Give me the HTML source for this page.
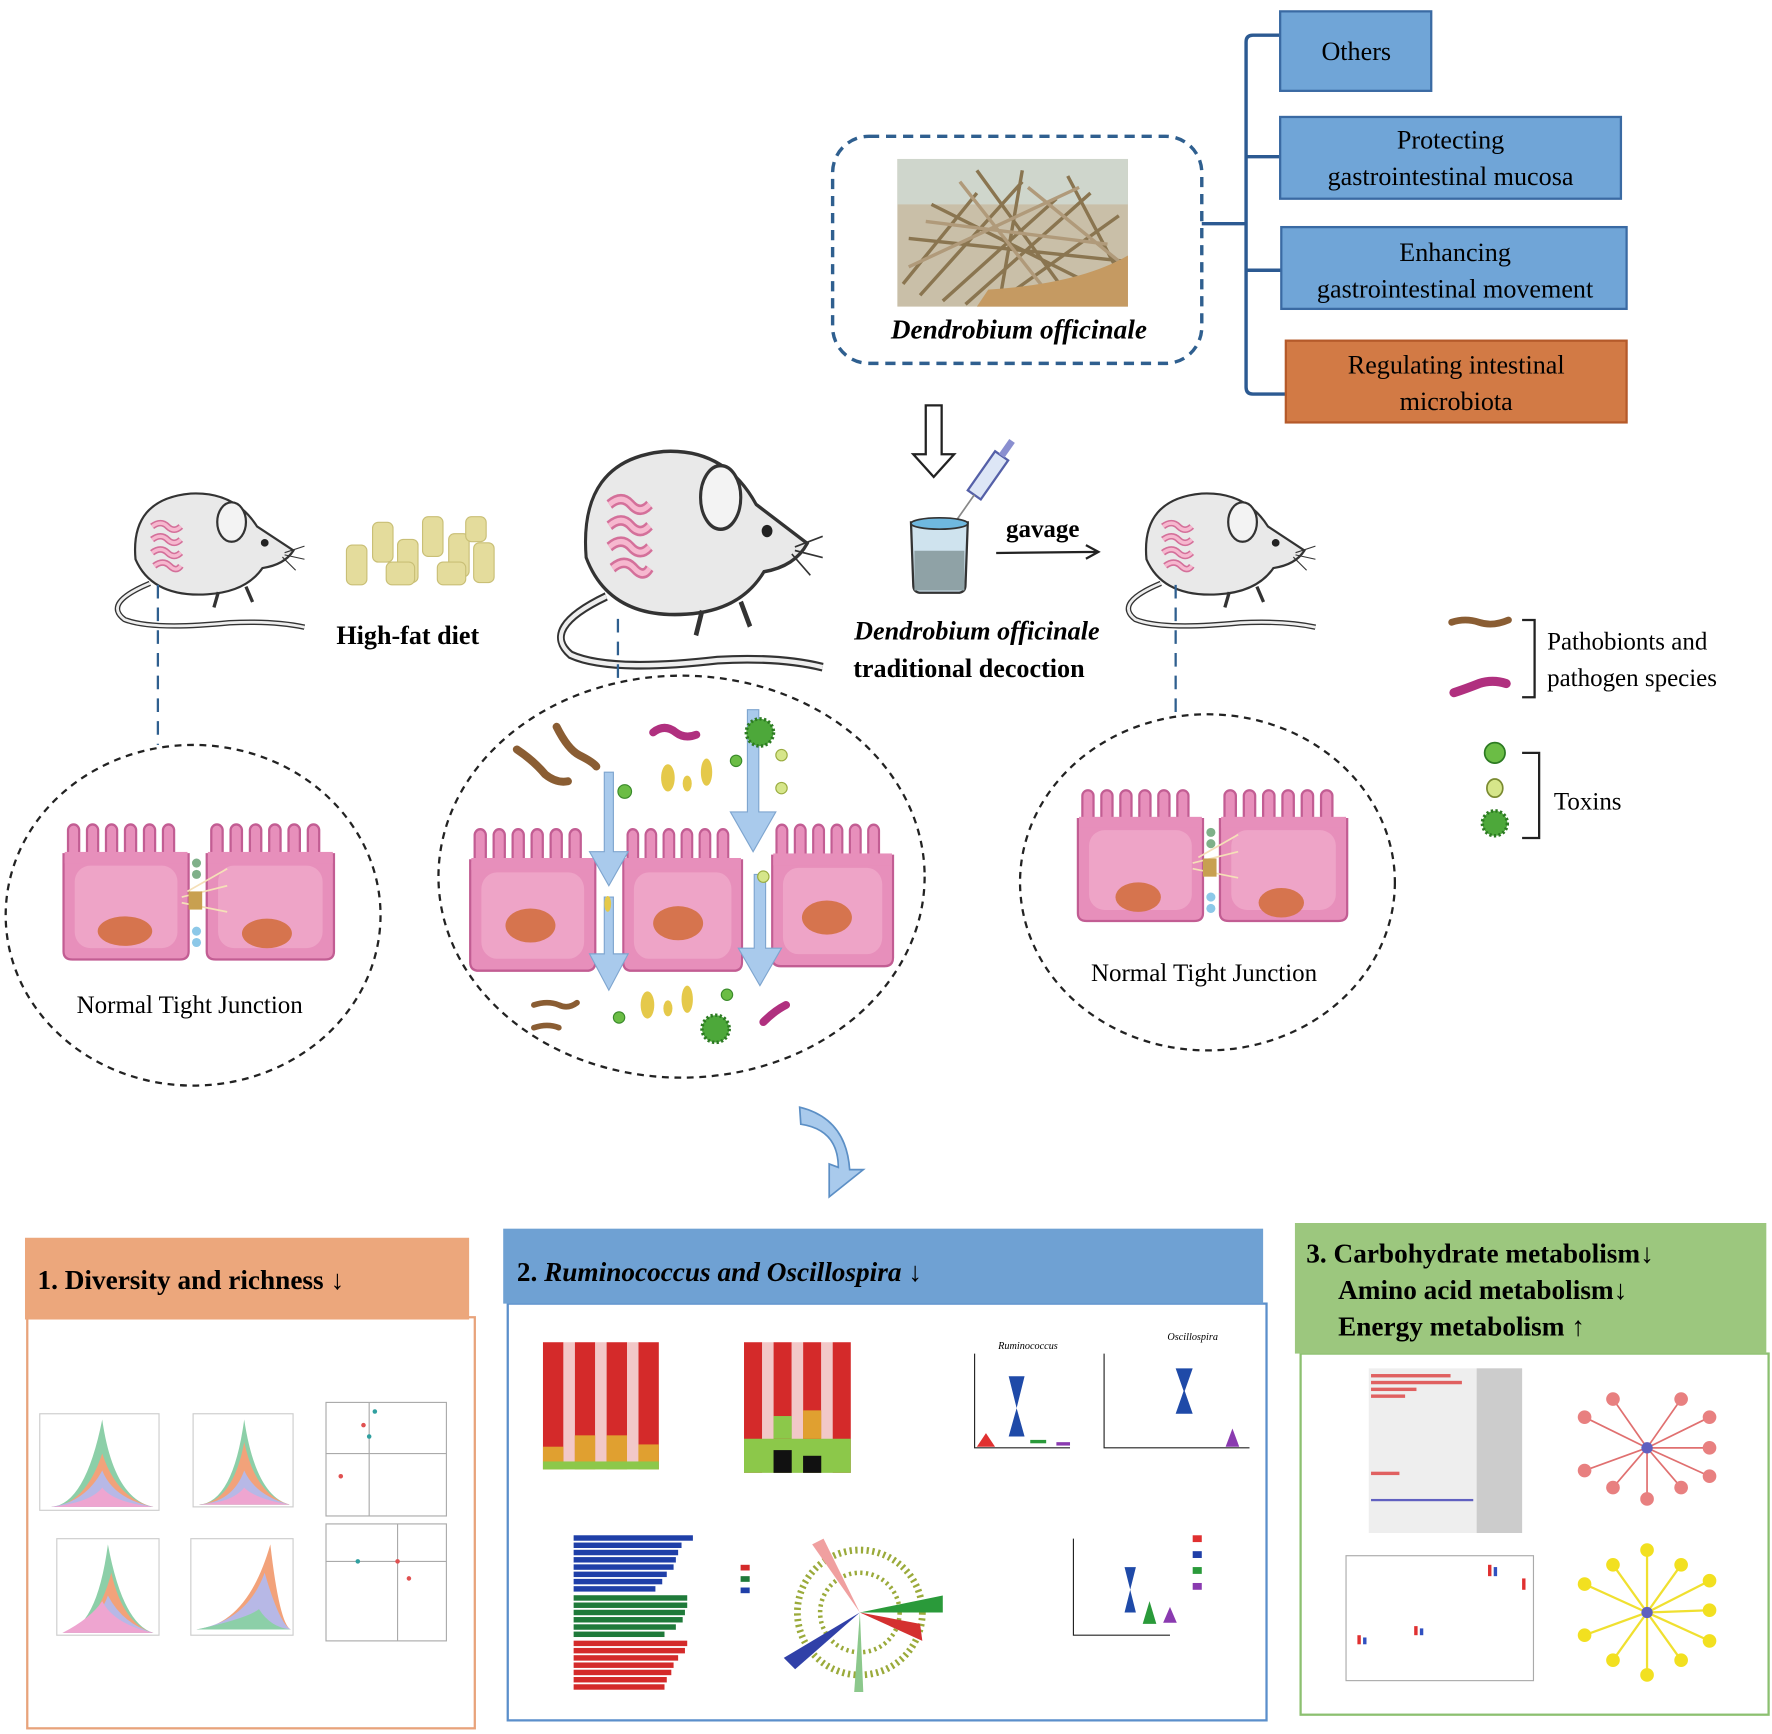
<!DOCTYPE html>
<html><head><meta charset="utf-8"><style>
html,body{margin:0;padding:0;background:#fff}
svg{display:block}
text{font-family:"Liberation Serif",serif}
</style></head><body>
<svg width="1772" height="1734" viewBox="0 0 1560 1527" preserveAspectRatio="none" xmlns="http://www.w3.org/2000/svg">
<defs>
<symbol id="cell" viewBox="0 0 120 125" preserveAspectRatio="none">
 <path d="M4,30 L4,115 Q4,122 12,122 L108,122 Q116,122 116,115 L116,30 Z" fill="#e78fbb" stroke="#c25d93" stroke-width="2"/>
 <g fill="#e78fbb" stroke="#c25d93" stroke-width="2">
  <rect x="8" y="4" width="10" height="32" rx="5"/><rect x="25" y="4" width="10" height="32" rx="5"/><rect x="42" y="4" width="10" height="32" rx="5"/><rect x="59" y="4" width="10" height="32" rx="5"/><rect x="76" y="4" width="10" height="32" rx="5"/><rect x="93" y="4" width="10" height="32" rx="5"/>
 </g>
 <rect x="5" y="28" width="110" height="10" fill="#e78fbb"/>
 <rect x="14" y="40" width="92" height="72" rx="14" fill="#eea4c7"/>
</symbol>
<symbol id="mouse" viewBox="0 0 180 140" preserveAspectRatio="none">
 <path d="M38,92 Q-5,110 15,125 Q40,135 110,128 Q150,126 178,132" fill="none" stroke="#333" stroke-width="5"/>
 <path d="M38,92 Q-5,110 15,125 Q40,135 110,128 Q150,126 178,132" fill="none" stroke="#eee" stroke-width="2.5"/>
 <path d="M25,70 Q20,15 75,10 Q115,8 135,40 Q150,50 168,62 Q160,75 140,78 Q125,100 90,102 Q40,105 25,70 Z" fill="#e9e9e9" stroke="#333" stroke-width="2"/>
 <ellipse cx="112" cy="36" rx="13" ry="18" fill="#f3f3f3" stroke="#333" stroke-width="2"/>
 <circle cx="142" cy="55" r="3.5" fill="#222"/>
 <path d="M40,40 q8,-6 14,0 q6,6 12,0 M40,52 q8,-6 14,0 q6,6 12,0 M40,64 q8,-6 14,0 q6,6 12,0 M42,76 q8,-6 14,0 q6,6 10,0" fill="none" stroke="#d4709a" stroke-width="6"/>
 <path d="M40,40 q8,-6 14,0 q6,6 12,0 M40,52 q8,-6 14,0 q6,6 12,0 M40,64 q8,-6 14,0 q6,6 12,0 M42,76 q8,-6 14,0 q6,6 10,0" fill="none" stroke="#f6b8cf" stroke-width="3"/>
 <path d="M160,64 l18,-6 M160,66 l18,4 M158,68 l12,12" stroke="#333" stroke-width="1"/>
 <path d="M100,100 l-4,14 M125,95 l6,14" stroke="#333" stroke-width="3"/>
</symbol>
</defs>

<!-- right boxes -->
<path d="M1127,31 L1103,31 Q1097,31 1097,37 L1097,341 Q1097,347 1103,347 L1132,347 M1097,138 L1128,138 M1097,238 L1128,238 M1058,197 L1097,197" fill="none" stroke="#2c5a92" stroke-width="3"/>
<rect x="1127" y="10" width="133" height="70" fill="#70a5d7" stroke="#3a6aa3" stroke-width="2"/>
<text x="1194" y="53" font-size="23" text-anchor="middle">Others</text>
<rect x="1127" y="103" width="300" height="72" fill="#70a5d7" stroke="#3a6aa3" stroke-width="2"/>
<text x="1277" y="131" font-size="23" text-anchor="middle">Protecting</text>
<text x="1277" y="163" font-size="23" text-anchor="middle">gastrointestinal mucosa</text>
<rect x="1128" y="200" width="304" height="72" fill="#70a5d7" stroke="#3a6aa3" stroke-width="2"/>
<text x="1281" y="230" font-size="23" text-anchor="middle">Enhancing</text>
<text x="1281" y="262" font-size="23" text-anchor="middle">gastrointestinal movement</text>
<rect x="1132" y="300" width="300" height="72" fill="#d27a45" stroke="#b55a2a" stroke-width="2"/>
<text x="1282" y="329" font-size="23" text-anchor="middle">Regulating intestinal</text>
<text x="1282" y="361" font-size="23" text-anchor="middle">microbiota</text>

<!-- dendrobium box -->
<rect x="733" y="120" width="325" height="200" rx="32" fill="none" stroke="#2f5f8f" stroke-width="3" stroke-dasharray="9,6"/>
<rect x="790" y="140" width="203" height="130" fill="#c9bfa8"/>
<rect x="790" y="140" width="203" height="40" fill="#cfd6cc"/>
<g stroke-width="3" fill="none">
<path d="M795,250 L860,170 M810,260 L900,160 M830,265 L930,175 M850,268 L960,170 M880,265 L985,190 M800,210 L990,230 M820,180 L960,250 M860,150 L940,260 M900,150 L880,265 M940,155 L990,250" stroke="#8a7550"/>
<path d="M800,235 L950,165 M815,195 L975,215 M845,160 L920,255 M905,165 L985,230" stroke="#b09a7a"/>
<path d="M870,255 Q950,250 993,225 L993,270 L860,270 Z" fill="#c59a62" stroke="none"/>
</g>
<text x="897" y="298" font-size="24" font-weight="bold" font-style="italic" text-anchor="middle">Dendrobium officinale</text>

<!-- hollow down arrow -->
<path d="M815,357 L829,357 L829,400 L840,400 L822,420 L804,400 L815,400 Z" fill="#fff" stroke="#222" stroke-width="2"/>
<!-- syringe -->
<g transform="rotate(-55 870 420)"><rect x="850" y="412" width="42" height="14" fill="#dde6f6" stroke="#5560a8" stroke-width="2"/><rect x="892" y="416" width="16" height="6" fill="#8a8fd0"/><line x1="850" y1="419" x2="820" y2="419" stroke="#888" stroke-width="1.5"/></g>
<!-- beaker -->
<path d="M802,460 L852,460 L850,515 Q850,522 843,522 L811,522 Q804,522 804,515 Z" fill="#cfe3ee" stroke="#333" stroke-width="2"/>
<rect x="805" y="485" width="44" height="35" fill="#8fa2a6"/>
<ellipse cx="827" cy="461" rx="25" ry="5" fill="#6fb8df" stroke="#333" stroke-width="1.5"/>
<text x="918" y="473" font-size="22" font-weight="bold" text-anchor="middle">gavage</text>
<path d="M877,487 L966,486 M956,480 L967,486 L956,492" fill="none" stroke="#222" stroke-width="2"/>
<text x="860" y="563" font-size="23" font-weight="bold" font-style="italic" text-anchor="middle">Dendrobium officinale</text>
<text x="853" y="596" font-size="23" font-weight="bold" text-anchor="middle">traditional decoction</text>

<!-- mice -->
<use href="#mouse" x="95" y="425" width="175" height="135"/>
<use href="#mouse" x="482" y="382" width="245" height="218"/>
<use href="#mouse" x="985" y="425" width="175" height="135"/>
<!-- food -->
<rect x="300" y="450" width="140" height="75" fill="#fff"/>
<g fill="#e4dc9c" stroke="#c9bf76" stroke-width="1">
<rect x="305" y="480" width="18" height="35" rx="5"/><rect x="328" y="460" width="18" height="35" rx="5"/><rect x="350" y="475" width="18" height="38" rx="5"/><rect x="372" y="455" width="18" height="35" rx="5"/><rect x="395" y="470" width="18" height="38" rx="5"/><rect x="417" y="478" width="18" height="35" rx="5"/><rect x="340" y="495" width="25" height="20" rx="5"/><rect x="385" y="495" width="25" height="20" rx="5"/><rect x="410" y="455" width="18" height="22" rx="5"/>
</g>
<text x="359" y="567" font-size="23" font-weight="bold" text-anchor="middle">High-fat diet</text>

<!-- dashed connectors -->
<g stroke="#2f5f8f" stroke-width="2" stroke-dasharray="12,8">
<line x1="139" y1="515" x2="139" y2="656"/><line x1="544" y1="545" x2="544" y2="598"/><line x1="1035" y1="515" x2="1035" y2="630"/>
</g>

<!-- circles -->
<g fill="none" stroke="#222" stroke-width="2" stroke-dasharray="6,5">
<ellipse cx="170" cy="806" rx="165" ry="150"/>
<ellipse cx="600" cy="772" rx="214" ry="177"/>
<ellipse cx="1063" cy="777" rx="165" ry="148"/>
</g>
<!-- left cells -->
<use href="#cell" x="52" y="722" width="118" height="126"/>
<use href="#cell" x="178" y="722" width="120" height="126"/>
<ellipse cx="110" cy="820" rx="24" ry="13" fill="#d6744e"/>
<ellipse cx="235" cy="822" rx="22" ry="13" fill="#d6744e"/>
<path d="M160,790 l40,-10 M160,795 l40,8 M165,785 l35,-20" stroke="#f5e0b8" stroke-width="1.5"/>
<rect x="166" y="785" width="12" height="16" fill="#c8a050"/>
<circle cx="173" cy="820" r="4" fill="#8cc8e8"/><circle cx="173" cy="830" r="4" fill="#8cc8e8"/>
<circle cx="173" cy="760" r="4" fill="#7fb089"/><circle cx="173" cy="770" r="4" fill="#7fb089"/>
<text x="167" y="892" font-size="22" text-anchor="middle">Normal Tight Junction</text>

<!-- middle cells -->
<use href="#cell" x="410" y="726" width="118" height="132"/>
<use href="#cell" x="545" y="726" width="112" height="132"/>
<use href="#cell" x="676" y="722" width="114" height="132"/>
<ellipse cx="467" cy="815" rx="22" ry="15" fill="#d6744e"/>
<ellipse cx="597" cy="813" rx="22" ry="15" fill="#d6744e"/>
<ellipse cx="728" cy="808" rx="22" ry="15" fill="#d6744e"/>
<g fill="#a9caec" stroke="#7ea5cf" stroke-width="1">
<path d="M532,680 L540,680 L540,750 L553,750 L536,780 L519,750 L532,750 Z"/>
<path d="M532,790 L540,790 L540,840 L553,840 L536,872 L519,840 L532,840 Z"/>
<path d="M658,625 L668,625 L668,715 L683,715 L663,750 L643,715 L658,715 Z"/>
<path d="M664,770 L674,770 L674,835 L688,835 L669,868 L650,835 L664,835 Z"/>
</g>
<!-- microbes middle -->
<g fill="none" stroke-linecap="round">
<path d="M455,660 q15,10 25,22 q10,8 20,6" stroke="#8a5d33" stroke-width="7"/>
<path d="M490,640 q10,20 20,25 q12,6 15,10" stroke="#8a5d33" stroke-width="7"/>
<path d="M575,645 q10,-8 20,0 q8,6 18,2" stroke="#b0307f" stroke-width="7"/>
<path d="M470,885 q12,-4 22,0 q8,4 16,-2" stroke="#8a5d33" stroke-width="5"/>
<path d="M470,905 q12,-4 22,0" stroke="#8a5d33" stroke-width="5"/>
<path d="M672,900 q10,-10 20,-15" stroke="#b0307f" stroke-width="7"/>
</g>
<g fill="#e5c94a"><ellipse cx="588" cy="685" rx="6" ry="12"/><ellipse cx="605" cy="690" rx="4" ry="7"/><ellipse cx="622" cy="680" rx="5" ry="12"/><ellipse cx="570" cy="885" rx="6" ry="12"/><ellipse cx="588" cy="888" rx="4" ry="7"/><ellipse cx="605" cy="880" rx="5" ry="12"/><ellipse cx="535" cy="796" rx="3" ry="7"/></g>
<g fill="#6bbd45" stroke="#3a8a2a"><circle cx="550" cy="697" r="6"/><circle cx="648" cy="670" r="5"/><circle cx="545" cy="896" r="5"/><circle cx="640" cy="876" r="5"/></g>
<g fill="#d6e68a" stroke="#9aac40"><circle cx="688" cy="694" r="5"/><circle cx="688" cy="665" r="5"/><circle cx="672" cy="772" r="5"/></g>
<circle cx="669" cy="645" r="12" fill="#4da83a" stroke="#2c7a22" stroke-width="3" stroke-dasharray="2,2"/>
<circle cx="630" cy="906" r="12" fill="#4da83a" stroke="#2c7a22" stroke-width="3" stroke-dasharray="2,2"/>

<!-- right cells -->
<use href="#cell" x="945" y="692" width="118" height="122"/>
<use href="#cell" x="1070" y="692" width="120" height="122"/>
<ellipse cx="1002" cy="790" rx="20" ry="13" fill="#d6744e"/>
<ellipse cx="1128" cy="795" rx="20" ry="13" fill="#d6744e"/>
<path d="M1050,760 l40,-10 M1050,765 l40,8 M1055,755 l35,-20" stroke="#f5e0b8" stroke-width="1.5"/>
<rect x="1059" y="756" width="12" height="16" fill="#c8a050"/>
<circle cx="1066" cy="790" r="4" fill="#8cc8e8"/><circle cx="1066" cy="800" r="4" fill="#8cc8e8"/>
<circle cx="1066" cy="733" r="4" fill="#7fb089"/><circle cx="1066" cy="743" r="4" fill="#7fb089"/>
<text x="1060" y="864" font-size="22" text-anchor="middle">Normal Tight Junction</text>

<!-- legend -->
<path d="M1278,548 q12,-4 24,0 q12,4 26,-2" fill="none" stroke="#8a5d33" stroke-width="6" stroke-linecap="round"/>
<path d="M1280,610 q12,-4 22,-8 q12,-4 24,0" fill="none" stroke="#b0307f" stroke-width="8" stroke-linecap="round"/>
<path d="M1340,546 L1351,546 L1351,614 L1340,614 M1340,663 L1355,663 L1355,738 L1340,738" fill="none" stroke="#222" stroke-width="2"/>
<text x="1362" y="572" font-size="22">Pathobionts and</text>
<text x="1362" y="604" font-size="22">pathogen species</text>
<circle cx="1316" cy="663" r="9" fill="#6bbd45" stroke="#2c7a22" stroke-width="1.5"/>
<ellipse cx="1316" cy="694" rx="7" ry="8" fill="#d6e68a" stroke="#7a8a30" stroke-width="1.5"/>
<circle cx="1316" cy="725" r="11" fill="#4da83a" stroke="#2c7a22" stroke-width="3" stroke-dasharray="2,2"/>
<text x="1368" y="713" font-size="22">Toxins</text>

<!-- curved arrow -->
<path d="M704,975 Q745,985 748,1030 L760,1030 L730,1054 L730,1025 L738,1028 Q738,995 705,990 Z" fill="#a9caec" stroke="#5c8fc5" stroke-width="1.5"/>

<!-- panel 1 -->
<rect x="24" y="1160" width="394" height="362" fill="#fff" stroke="#e8a37b" stroke-width="2"/>
<rect x="22" y="1090" width="391" height="72" fill="#eca77c"/>
<text x="33" y="1135" font-size="24" font-weight="bold">1. Diversity and richness ↓</text>
<g>
 <g transform="translate(35,1245)"><rect width="105" height="85" fill="#fff" stroke="#ccc"/><path d="M10,82 Q40,80 55,5 Q65,75 100,82Z" fill="#8ccfa8"/><path d="M10,82 Q40,80 55,35 Q68,75 100,82Z" fill="#f2a27a"/><path d="M10,82 Q40,78 55,50 Q65,75 100,82Z" fill="#b7b8e6"/><path d="M10,82 Q45,78 55,65 Q65,78 100,82Z" fill="#eea5d0"/></g>
 <g transform="translate(170,1245)"><rect width="88" height="82" fill="#fff" stroke="#ccc"/><path d="M5,80 Q35,78 45,5 Q55,72 85,80Z" fill="#8ccfa8"/><path d="M5,80 Q35,78 45,25 Q55,72 85,80Z" fill="#f2a27a"/><path d="M5,80 Q35,78 45,50 Q55,72 85,80Z" fill="#b7b8e6"/><path d="M5,80 Q35,78 45,65 Q55,75 85,80Z" fill="#eea5d0"/></g>
 <g transform="translate(50,1355)"><rect width="90" height="85" fill="#fff" stroke="#ccc"/><path d="M5,83 Q35,80 45,5 Q58,75 85,83Z" fill="#8ccfa8"/><path d="M5,83 Q35,80 48,30 Q58,75 85,83Z" fill="#f2a27a"/><path d="M5,83 Q35,78 45,50 Q58,75 85,83Z" fill="#b7b8e6"/><path d="M5,83 Q30,70 40,55 Q50,75 85,83Z" fill="#eea5d0"/></g>
 <g transform="translate(168,1355)"><rect width="90" height="85" fill="#fff" stroke="#ccc"/><path d="M5,80 Q50,75 70,5 Q78,75 88,80Z" fill="#f2a27a"/><path d="M5,80 Q50,72 65,30 Q78,75 88,80Z" fill="#b7b8e6"/><path d="M5,80 Q50,70 60,62 Q70,78 88,80Z" fill="#8ccfa8"/></g>
 <rect x="287" y="1235" width="106" height="100" fill="#fff" stroke="#aaa"/><line x1="287" y1="1280" x2="393" y2="1280" stroke="#aaa"/><line x1="325" y1="1235" x2="325" y2="1335" stroke="#aaa"/>
 <rect x="287" y="1342" width="106" height="103" fill="#fff" stroke="#aaa"/><line x1="287" y1="1375" x2="393" y2="1375" stroke="#aaa"/><line x1="350" y1="1342" x2="350" y2="1445" stroke="#aaa"/>
 <g fill="#e05050"><circle cx="320" cy="1255" r="2"/><circle cx="300" cy="1300" r="2"/><circle cx="350" cy="1375" r="2"/><circle cx="360" cy="1390" r="2"/></g>
 <g fill="#30a0a0"><circle cx="330" cy="1243" r="2"/><circle cx="325" cy="1265" r="2"/><circle cx="315" cy="1375" r="2"/></g>
</g>

<!-- panel 2 -->
<rect x="447" y="1148" width="668" height="367" fill="#fff" stroke="#5b8fcb" stroke-width="2"/>
<rect x="443" y="1082" width="669" height="66" fill="#6fa1d3"/>
<text x="455" y="1128" font-size="24" font-weight="bold"><tspan>2. </tspan><tspan font-style="italic">Ruminococcus and Oscillospira</tspan><tspan>  ↓</tspan></text>
<g>
 <g transform="translate(478,1182)">
  <rect x="0" width="18" height="112" fill="#d42a2a"/><rect x="28" width="18" height="112" fill="#d42a2a"/><rect x="56" width="18" height="112" fill="#d42a2a"/><rect x="84" width="18" height="112" fill="#d42a2a"/>
  <rect x="18" width="10" height="112" fill="#f2c8c8"/><rect x="46" width="10" height="112" fill="#f2c8c8"/><rect x="74" width="10" height="112" fill="#f2c8c8"/>
  <rect x="0" y="92" width="18" height="20" fill="#e0a030"/><rect x="28" y="82" width="18" height="30" fill="#e0a030"/><rect x="56" y="82" width="18" height="30" fill="#e0a030"/><rect x="84" y="90" width="18" height="22" fill="#e0a030"/>
  <rect x="0" y="105" width="102" height="7" fill="#8cc84a"/>
 </g>
 <g transform="translate(655,1182)">
  <rect x="0" width="16" height="115" fill="#d42a2a"/><rect x="26" width="16" height="115" fill="#d42a2a"/><rect x="52" width="16" height="115" fill="#d42a2a"/><rect x="78" width="16" height="115" fill="#d42a2a"/>
  <rect x="16" width="10" height="115" fill="#f2c8c8"/><rect x="42" width="10" height="115" fill="#f2c8c8"/><rect x="68" width="10" height="115" fill="#f2c8c8"/>
  <rect x="0" y="85" width="94" height="30" fill="#8cc84a"/><rect x="26" y="65" width="16" height="20" fill="#8cc84a"/><rect x="52" y="60" width="16" height="25" fill="#e0a030"/><rect x="26" y="95" width="16" height="20" fill="#111"/><rect x="52" y="100" width="16" height="15" fill="#111"/>
 </g>
 <g stroke="#222" fill="none"><path d="M858,1192 L858,1275 L942,1275 M972,1192 L972,1275 L1100,1275"/></g>
 <path d="M888,1212 L902,1212 L895,1240 L902,1265 L888,1265 L895,1240Z" fill="#1f4aa8"/>
 <path d="M1035,1205 L1050,1205 L1043,1225 L1050,1245 L1035,1245 L1042,1225Z" fill="#1f4aa8"/>
 <path d="M868,1262 l8,12 l-16,0z" fill="#e03030"/><rect x="907" y="1268" width="14" height="3" fill="#2a9a3a"/><rect x="930" y="1270" width="12" height="3" fill="#8a3ab0"/>
 <path d="M1085,1258 l6,16 l-12,0z" fill="#8a3ab0"/>
 <text x="905" y="1188" font-size="9" font-style="italic" text-anchor="middle">Ruminococcus</text>
 <text x="1050" y="1180" font-size="9" font-style="italic" text-anchor="middle">Oscillospira</text>
 <g transform="translate(505,1352) scale(1,0.8)">
  <rect y="0" width="105" height="6" fill="#1f3fa8"/><rect y="8" width="95" height="6" fill="#1f3fa8"/><rect y="16" width="92" height="6" fill="#1f3fa8"/><rect y="24" width="90" height="6" fill="#1f3fa8"/><rect y="32" width="88" height="6" fill="#1f3fa8"/><rect y="40" width="82" height="6" fill="#1f3fa8"/><rect y="48" width="78" height="6" fill="#1f3fa8"/><rect y="56" width="72" height="6" fill="#1f3fa8"/>
  <rect y="66" width="100" height="6" fill="#1f7a3a"/><rect y="74" width="100" height="6" fill="#1f7a3a"/><rect y="82" width="98" height="6" fill="#1f7a3a"/><rect y="90" width="96" height="6" fill="#1f7a3a"/><rect y="98" width="90" height="6" fill="#1f7a3a"/><rect y="106" width="80" height="6" fill="#1f7a3a"/>
  <rect y="116" width="100" height="6" fill="#d42a2a"/><rect y="124" width="98" height="6" fill="#d42a2a"/><rect y="132" width="92" height="6" fill="#d42a2a"/><rect y="140" width="88" height="6" fill="#d42a2a"/><rect y="148" width="86" height="6" fill="#d42a2a"/><rect y="156" width="82" height="6" fill="#d42a2a"/><rect y="164" width="80" height="6" fill="#d42a2a"/>
 </g>
 <circle cx="757" cy="1420" r="55" fill="none" stroke="#9aaa3a" stroke-width="6" stroke-dasharray="2,3"/>
 <circle cx="757" cy="1420" r="35" fill="none" stroke="#9aaa3a" stroke-width="4" stroke-dasharray="2,3"/>
 <path d="M757,1420 L715,1360 L725,1355Z" fill="#f0a0a0"/><path d="M757,1420 L810,1430 L812,1445Z" fill="#d43030"/><path d="M757,1420 L830,1405 L830,1420Z" fill="#2a9a3a"/><path d="M757,1420 L690,1460 L700,1470Z" fill="#3040a8"/><path d="M757,1420 L760,1490 L752,1490Z" fill="#8cc88c"/>
 <rect x="652" y="1378" width="8" height="5" fill="#d42a2a"/><rect x="652" y="1388" width="8" height="5" fill="#1f7a3a"/><rect x="652" y="1398" width="8" height="5" fill="#1f3fa8"/>
 <g stroke="#222" fill="none"><path d="M945,1355 L945,1440 L1030,1440"/></g>
 <path d="M990,1380 L1000,1380 L995,1400 L1000,1420 L990,1420 L995,1400Z" fill="#1f4aa8"/>
 <path d="M1012,1410 l6,20 l-12,0z" fill="#2a9a3a"/><path d="M1030,1415 l6,14 l-12,0z" fill="#8a3ab0"/>
 <rect x="1050" y="1352" width="8" height="6" fill="#e03030"/><rect x="1050" y="1366" width="8" height="6" fill="#1f3fa8"/><rect x="1050" y="1380" width="8" height="6" fill="#2a9a3a"/><rect x="1050" y="1394" width="8" height="6" fill="#8a3ab0"/>
</g>

<!-- panel 3 -->
<rect x="1145" y="1192" width="412" height="318" fill="#fff" stroke="#8cc070" stroke-width="2"/>
<rect x="1140" y="1077" width="415" height="115" fill="#9cc77e"/>
<text x="1150" y="1112" font-size="24" font-weight="bold">3. Carbohydrate metabolism↓</text>
<text x="1178" y="1144" font-size="24" font-weight="bold">Amino acid metabolism↓</text>
<text x="1178" y="1176" font-size="24" font-weight="bold">Energy metabolism ↑</text>
<g>
 <rect x="1205" y="1205" width="135" height="145" fill="#eee"/><rect x="1300" y="1205" width="40" height="145" fill="#ccc"/>
 <g fill="#e06060"><rect x="1207" y="1210" width="70" height="3"/><rect x="1207" y="1216" width="80" height="3"/><rect x="1207" y="1222" width="40" height="3"/><rect x="1207" y="1228" width="30" height="3"/><rect x="1207" y="1296" width="25" height="3"/></g>
 <rect x="1207" y="1320" width="90" height="2" fill="#6060c0"/>
 <g stroke="#e07070" stroke-width="1.5"><line x1="1450" y1="1275" x2="1420" y2="1232"/><line x1="1450" y1="1275" x2="1480" y2="1232"/><line x1="1450" y1="1275" x2="1395" y2="1248"/><line x1="1450" y1="1275" x2="1505" y2="1248"/><line x1="1450" y1="1275" x2="1395" y2="1295"/><line x1="1450" y1="1275" x2="1505" y2="1275"/><line x1="1450" y1="1275" x2="1505" y2="1300"/><line x1="1450" y1="1275" x2="1420" y2="1310"/><line x1="1450" y1="1275" x2="1480" y2="1310"/><line x1="1450" y1="1275" x2="1450" y2="1320"/></g>
 <g fill="#e88080"><circle cx="1420" cy="1232" r="6"/><circle cx="1480" cy="1232" r="6"/><circle cx="1395" cy="1248" r="6"/><circle cx="1505" cy="1248" r="6"/><circle cx="1395" cy="1295" r="6"/><circle cx="1505" cy="1275" r="6"/><circle cx="1505" cy="1300" r="6"/><circle cx="1420" cy="1310" r="6"/><circle cx="1480" cy="1310" r="6"/><circle cx="1450" cy="1320" r="6"/><circle cx="1450" cy="1275" r="5" fill="#6060c0"/></g>
 <rect x="1185" y="1370" width="165" height="110" fill="#fff" stroke="#aaa"/>
 <g fill="#e03030"><rect x="1195" y="1440" width="3" height="8"/><rect x="1245" y="1432" width="3" height="8"/><rect x="1310" y="1378" width="3" height="10"/><rect x="1340" y="1390" width="3" height="10"/></g>
 <g fill="#3050c0"><rect x="1200" y="1442" width="3" height="6"/><rect x="1250" y="1434" width="3" height="6"/><rect x="1315" y="1380" width="3" height="8"/></g>
 <g stroke="#f0e030" stroke-width="2"><line x1="1450" y1="1420" x2="1420" y2="1378"/><line x1="1450" y1="1420" x2="1480" y2="1378"/><line x1="1450" y1="1420" x2="1395" y2="1395"/><line x1="1450" y1="1420" x2="1505" y2="1392"/><line x1="1450" y1="1420" x2="1395" y2="1440"/><line x1="1450" y1="1420" x2="1505" y2="1418"/><line x1="1450" y1="1420" x2="1505" y2="1445"/><line x1="1450" y1="1420" x2="1420" y2="1462"/><line x1="1450" y1="1420" x2="1480" y2="1462"/><line x1="1450" y1="1420" x2="1450" y2="1475"/><line x1="1450" y1="1420" x2="1450" y2="1365"/></g>
 <g fill="#f2e020"><circle cx="1420" cy="1378" r="6"/><circle cx="1480" cy="1378" r="6"/><circle cx="1395" cy="1395" r="6"/><circle cx="1505" cy="1392" r="6"/><circle cx="1395" cy="1440" r="6"/><circle cx="1505" cy="1418" r="6"/><circle cx="1505" cy="1445" r="6"/><circle cx="1420" cy="1462" r="6"/><circle cx="1480" cy="1462" r="6"/><circle cx="1450" cy="1475" r="6"/><circle cx="1450" cy="1365" r="6"/><circle cx="1450" cy="1420" r="5" fill="#6060c0"/></g>
</g>
</svg>
</body></html>
